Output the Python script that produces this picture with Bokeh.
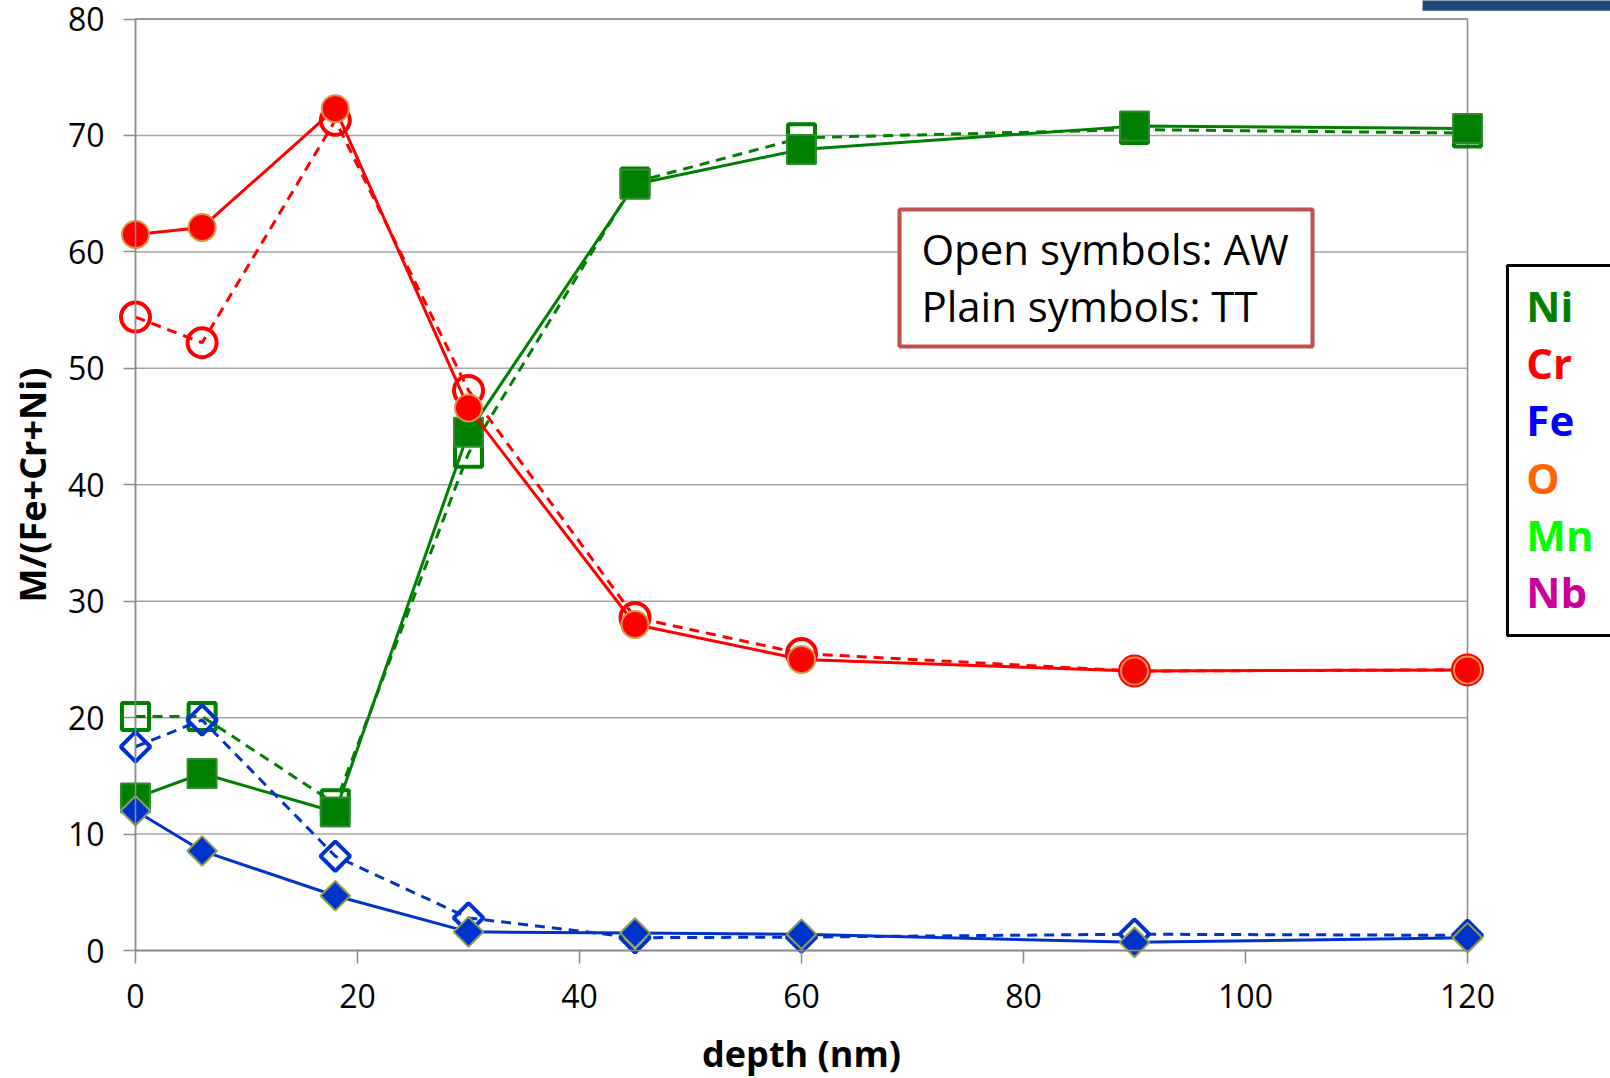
from bokeh.plotting import figure
from bokeh.models import Range1d, Label, BoxAnnotation, FixedTicker
from bokeh.embed import file_html
from bokeh.resources import INLINE
import numpy as np

# ---- data ----
depth = [0, 6, 18, 30, 45, 60, 90, 120]
ni_tt = [13.1, 15.2, 11.9, 44.5, 65.8, 68.8, 70.8, 70.6]
ni_aw = [20.1, 20.1, 12.6, 42.7, 66.0, 69.8, 70.5, 70.2]
cr_tt = [61.5, 62.1, 72.3, 46.6, 28.0, 25.0, 24.0, 24.1]
cr_aw = [54.4, 52.2, 71.3, 48.1, 28.6, 25.5, 24.0, 24.1]
fe_tt = [12.0, 8.55, 4.7, 1.6, 1.5, 1.4, 0.7, 1.1]
fe_aw = [17.5, 19.8, 8.1, 2.8, 1.1, 1.15, 1.4, 1.3]
x_ticks = [0, 20, 40, 60, 80, 100, 120]
y_ticks = [0, 10, 20, 30, 40, 50, 60, 70, 80]
legend_names = ["Ni", "Cr", "Fe", "O", "Mn", "Nb"]
legend_colors = ["#008000", "#FF0000", "#0000FF", "#FF6600", "#00FF00", "#CC0099"]
note_lines = ["Open symbols: AW", "Plain symbols: TT"]

GREEN = "#008000"
RED = "#FF0000"
BLUE = "#0033CC"
GRAY = "#8c8c8c"
GRID = "#a6a6a6"
FONT = "Open Sans"

# ---- geometry (pixels) ----
W, H = 1610, 1078
LEFT_PX, BOTTOM_PX, TOP_PX = 135.0, 128.0, 18.5
XMAX, YMAX = x_ticks[-1], y_ticks[-1]
px_x = 1332.0 / XMAX
px_y = (H - BOTTOM_PX - TOP_PX) / YMAX
x_range = Range1d(-LEFT_PX / px_x, (W - LEFT_PX) / px_x)
y_range = Range1d(-BOTTOM_PX / px_y, YMAX + TOP_PX / px_y)

p = figure(width=W, height=H, output_backend="svg", toolbar_location=None,
           x_range=x_range, y_range=y_range,
           min_border_left=0, min_border_right=0, min_border_top=0,
           min_border_bottom=0, background_fill_color="white",
           border_fill_color="white")
p.outline_line_color = None
p.xgrid.visible = False
p.ygrid.visible = False

# plot-area border and horizontal grid lines
p.add_layout(BoxAnnotation(left=x_ticks[0], right=XMAX, bottom=y_ticks[0], top=YMAX,
                           fill_color=None, line_color=GRAY, line_alpha=1.0,
                           line_width=1.5, level="underlay"))
p.segment(x0=[x_ticks[0]] * len(y_ticks), x1=[XMAX] * len(y_ticks),
          y0=y_ticks, y1=y_ticks, line_color=GRID, line_width=1.5, level="underlay")

p.xaxis.ticker = FixedTicker(ticks=x_ticks)
p.yaxis.ticker = FixedTicker(ticks=y_ticks)
p.xaxis.fixed_location = 0
p.yaxis.fixed_location = 0
p.xaxis.bounds = (x_ticks[0], XMAX)
p.yaxis.bounds = (y_ticks[0], YMAX)
for ax in (p.xaxis, p.yaxis):
    ax.axis_line_color = GRAY
    ax.axis_line_width = 1.5
    ax.major_tick_line_color = GRAY
    ax.major_tick_line_width = 1.5
    ax.major_tick_in = 0
    ax.minor_tick_line_color = None
    ax.major_label_text_font = FONT
    ax.major_label_text_font_size = "32px"
    ax.major_label_text_color = "black"
    ax.axis_label_text_font = FONT
    ax.axis_label_text_font_size = "36px"
    ax.axis_label_text_font_style = "bold"
    ax.axis_label_text_color = "black"
p.xaxis.major_tick_out = 13
p.yaxis.major_tick_out = 12
p.xaxis.major_label_standoff = 20
p.yaxis.major_label_standoff = 19
p.xaxis.axis_label = "depth (nm)"
p.yaxis.axis_label = "M/(Fe+Cr+Ni)"
p.xaxis.axis_label_standoff = 18
p.yaxis.axis_label_standoff = 8

DASH = "10 7"

def series(y_aw, y_tt, color, marker, s_open, s_fill, angle, edge):
    p.line(depth, y_aw, line_color=color, line_width=3, line_dash=DASH)
    p.scatter(depth, y_aw, marker=marker, size=s_open, angle=angle,
              fill_color=None, line_color=color, line_width=4)
    p.line(depth, y_tt, line_color=color, line_width=3)
    p.scatter(depth, y_tt, marker=marker, size=s_fill, angle=angle,
              fill_color=color, line_color=edge, line_width=2)

series(ni_aw, ni_tt, GREEN, "square", 27, 29, 0, "#2e8b2e")
series(fe_aw, fe_tt, BLUE, "square", 21, 21, np.pi / 4, "#8DA04E")
series(cr_aw, cr_tt, RED, "circle", 29, 27, 0, "#D9954A")

# annotation box
p.add_layout(BoxAnnotation(left=68.83, right=106.04, top=63.64, bottom=51.87,
                           fill_color="white", fill_alpha=1.0,
                           line_color="#C0504D", line_alpha=1.0, line_width=4))
for txt, yy in zip(note_lines, [60.3, 55.4]):
    p.add_layout(Label(x=70.8, y=yy, text=txt, text_font=FONT,
                       text_font_size="42px", text_color="black",
                       text_baseline="middle", text_align="left"))

# legend box (to the right of the plot area)
p.add_layout(BoxAnnotation(left=123.6, right=140.0, top=58.83, bottom=27.05,
                           fill_color="white", fill_alpha=1.0,
                           line_color="black", line_alpha=1.0, line_width=3))
leg_y = [55.4, 50.5, 45.6, 40.6, 35.7, 30.8]
for name, col, yy in zip(legend_names, legend_colors, leg_y):
    p.add_layout(Label(x=125.3, y=yy, text=name, text_font=FONT,
                       text_font_size="42px", text_font_style="bold",
                       text_color=col, text_baseline="middle", text_align="left"))

# dark blue bar at the top right
p.add_layout(BoxAnnotation(left=115.95, right=140.0, top=YMAX + 2.0,
                           bottom=YMAX + (TOP_PX - 10.3) / px_y,
                           fill_color="#1F497D", fill_alpha=1.0, line_color=None))

open("out.html", "w").write(file_html(p, INLINE))
